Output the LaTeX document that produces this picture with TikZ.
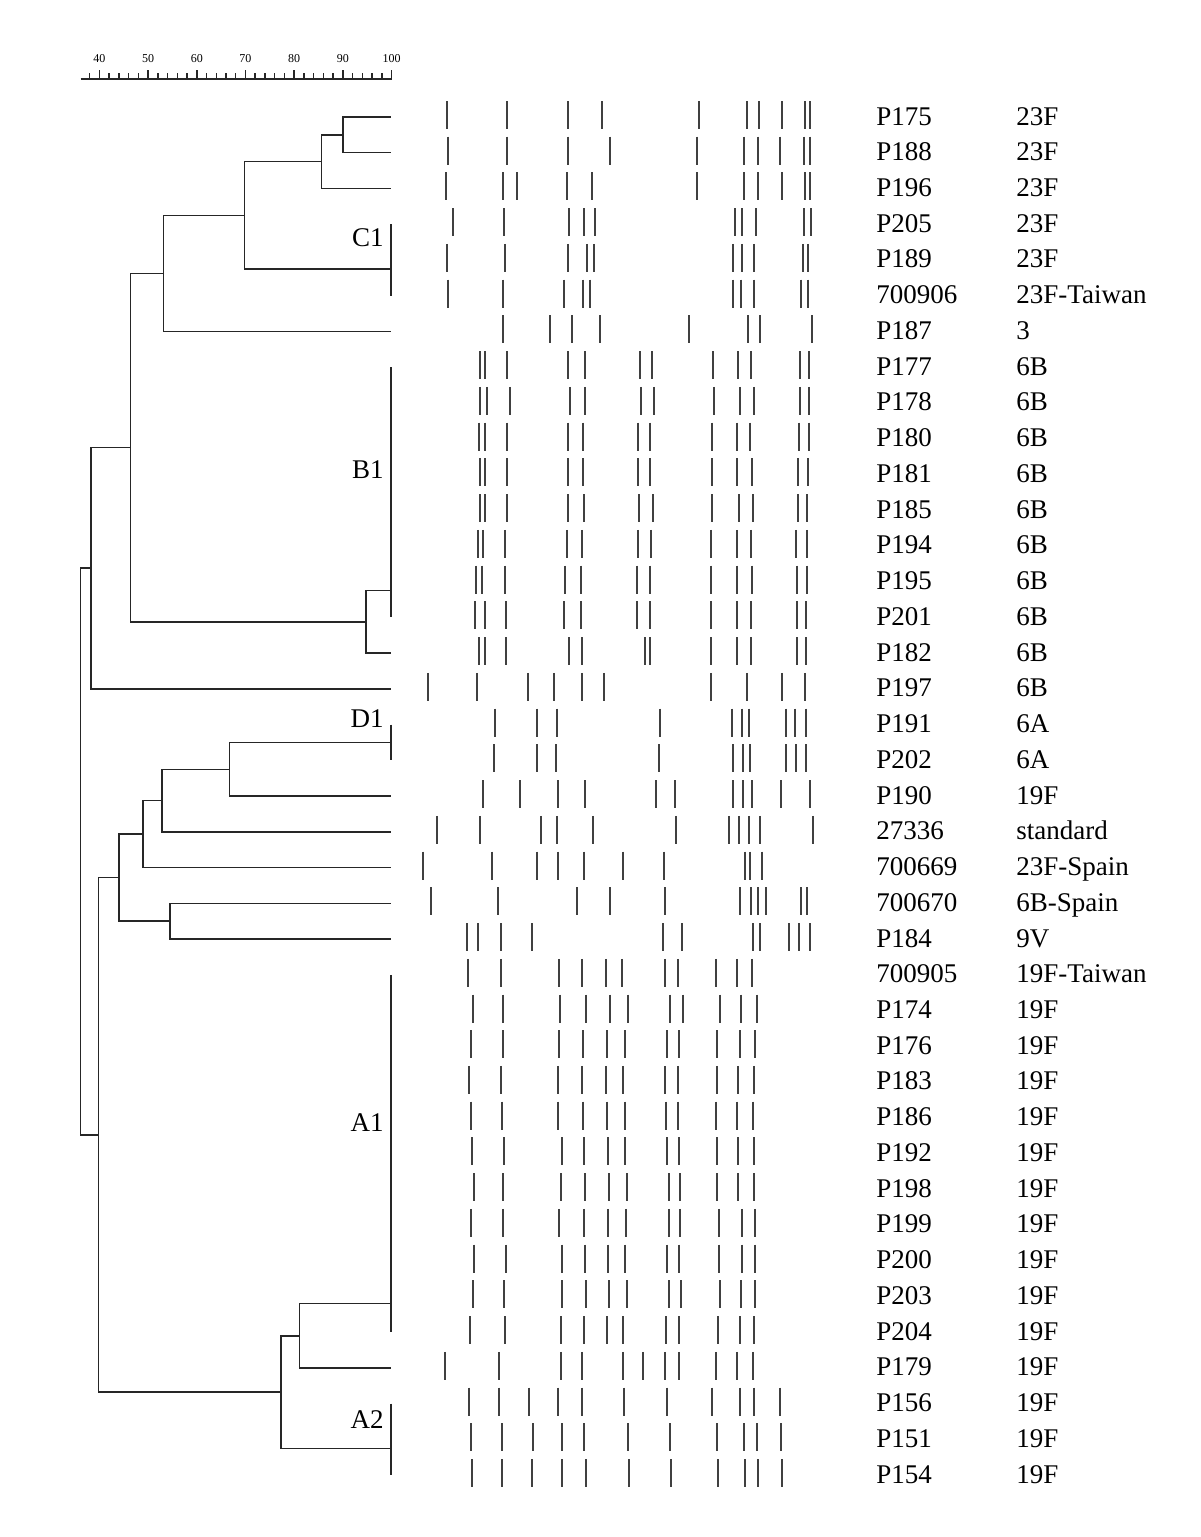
\documentclass[tikz,border=0pt]{standalone}
\usepackage{fontspec}
\setmainfont{Liberation Serif}
\usepackage{tikz}

\begin{document}
\begin{tikzpicture}[x=0.5pt, y=-0.5pt,
        tree/.style = {draw=black!85, line width=0.75pt},
        band/.style = {draw=black!75, line width=0.7pt},
        lbl/.style = {anchor=base west, inner sep=0pt, font=\fontsize{13.5}{16}\selectfont},
        grp/.style = {anchor=east, inner sep=0pt, font=\fontsize{13.5}{16}\selectfont},
        scl/.style = {above=3.5pt, inner sep=0pt, font=\fontsize{6}{7}\selectfont}]
            \useasboundingbox (0,0) rectangle (1200,1537);

            \coordinate (s0) at (80.7,79);
            \coordinate (s1) at (391.7,79);
            \draw[tree] (s0) -- (s1);
            \foreach \v in {38,40,...,100}
                \draw[tree] ({99.3+(\v-40)*4.873},79) -- ++(0,-6);
            \foreach \v in {40,50,...,100}
                \draw[tree] ({99.3+(\v-40)*4.873},79) -- ++(0,-9) node[scl] (t\v) {\v};

            \foreach \id/\sero/\bands [count=\r from 0] in {
                P175/23F/{447,507,568,602,699,747,759,782,805,810},
                P188/23F/{448,507,568,610,697,744,758,780,804,810},
                P196/23F/{446,503,517,567,592,697,744,758,782,805,810},
                P205/23F/{453,504,569,584,595,735,742,756,804,811},
                P189/23F/{447,505,568,587,594,733,742,754,803,808},
                700906/23F-Taiwan/{448,503,564,583,590,733,741,754,801,808},
                P187/3/{503,550,572,600,689,748,760,812},
                P177/6B/{480,485,507,568,585,640,652,713,738,751,800,809},
                P178/6B/{480,487,510,570,585,641,654,714,740,754,800,809},
                P180/6B/{479,485,507,568,583,638,650,712,737,750,799,809},
                P181/6B/{480,485,507,568,583,638,650,712,737,752,798,808},
                P185/6B/{480,485,507,568,584,639,653,712,739,753,798,807},
                P194/6B/{478,483,505,567,582,638,651,711,737,751,796,807},
                P195/6B/{476,482,505,565,581,637,650,711,737,752,797,807},
                P201/6B/{475,485,506,564,581,637,650,711,737,751,797,806},
                P182/6B/{479,485,506,569,582,645,650,711,737,751,797,806},
                P197/6B/{428,477,528,554,582,604,711,747,782,805},
                P191/6A/{495,537,557,660,732,742,749,786,795,806},
                P202/6A/{494,537,556,659,733,743,750,786,796,806},
                P190/19F/{483,520,558,585,656,675,733,743,752,781,810},
                27336/standard/{437,480,541,557,593,676,729,739,749,760,813},
                700669/23F-Spain/{423,492,537,558,584,623,664,745,750,762},
                700670/6B-Spain/{431,498,577,610,665,740,751,758,766,801,807},
                P184/9V/{467,478,501,532,663,682,753,760,789,799,810},
                700905/19F-Taiwan/{468,501,559,582,606,622,665,678,716,737,752},
                P174/19F/{473,503,560,586,610,628,670,683,720,741,757},
                P176/19F/{471,503,559,583,607,625,667,679,717,740,755},
                P183/19F/{469,501,558,582,606,623,665,678,717,738,754},
                P186/19F/{471,502,558,583,607,625,666,678,716,737,753},
                P192/19F/{472,504,562,584,608,625,667,679,717,738,754},
                P198/19F/{474,503,561,585,609,627,669,680,717,738,754},
                P199/19F/{471,503,559,584,608,626,669,680,719,742,755},
                P200/19F/{474,506,562,585,608,625,667,679,719,742,755},
                P203/19F/{473,504,562,586,609,627,669,681,720,741,755},
                P204/19F/{470,505,561,584,607,623,666,679,718,740,754},
                P179/19F/{445,499,561,582,623,643,665,679,716,737,753},
                P156/19F/{469,499,529,558,582,624,667,712,740,754,780},
                P151/19F/{471,502,533,562,584,628,670,717,744,757,781},
                P154/19F/{472,502,532,562,586,629,671,718,745,758,782}} {
                \coordinate (l\r) at (391,{117+35.74*\r});
                \node[lbl] (id\r) at (876,{125+35.74*\r}) {\id};
                \node[lbl] (sero\r) at (1016,{125+35.74*\r}) {\sero};
                \foreach \bx in \bands
                    \draw[band] (\bx,{101+35.74*\r}) -- ++(0,28);
            }

            \foreach \n/\x/\r in {n1/343/0.5, n2/321.5/1.25, gC1/391/4.25, n3/244.5/2.75,
                    n4/163.3/4.375, gB1/391/13.25, n5/366/14.125, n6/130.5/9.25,
                    n7/91/12.625, gD1/391/17.5, n8/229.5/18.25, n9/162/19.125,
                    n10/143/20.06, n11/170/22.5, n12/119/21.28, gA1/391/33.2,
                    n13/299.5/34.1, gA2/391/37.25, n14/281/35.68, n15/98.7/28.48,
                    root/80.7/20.55}
                \coordinate (\n) at (\x,{117+35.74*\r});

            \foreach \a/\b in {l3/l5, l7/l14, l17/l18, l24/l34, l36/l38}
                \draw[tree] (\a) -- (\b);

            \foreach \p/\c in {n1/l0, n1/l1, n2/n1, n2/l2, n3/n2, n3/gC1, n4/n3, n4/l6,
                    n5/gB1, n5/l15, n6/n4, n6/n5, n7/n6, n7/l16,
                    n8/gD1, n8/l19, n9/n8, n9/l20, n10/n9, n10/l21, n11/l22, n11/l23,
                    n12/n10, n12/n11, n13/gA1, n13/l35, n14/n13, n14/gA2,
                    n15/n12, n15/n14, root/n7, root/n15}
                \draw[tree] (\p) |- (\c);

            \node[grp] (C1) at (384,237.5) {C1};
            \node[grp] (B1) at (384,470) {B1};
            \node[grp] (D1) at (384,719) {D1};
            \node[grp] (A1) at (384,1123) {A1};
            \node[grp] (A2) at (384,1420) {A2};
        \end{tikzpicture}
\end{document}
